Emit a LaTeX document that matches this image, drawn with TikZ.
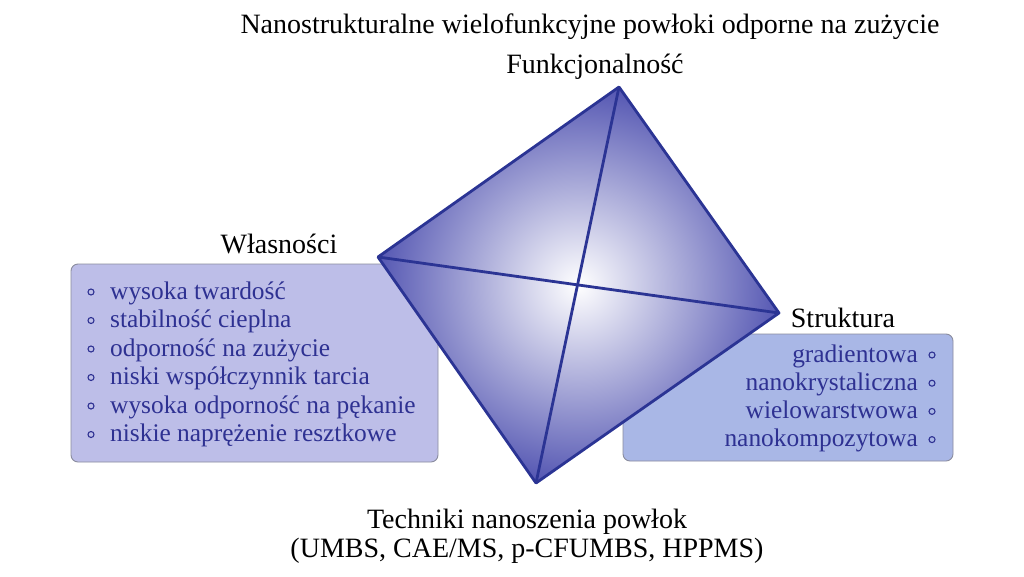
\documentclass[tikz,border=0pt]{standalone}
\usepackage{fontspec}
\setmainfont{Liberation Serif}
\definecolor{txtblue}{HTML}{2E3192}
\definecolor{lineblue}{HTML}{2B3494}
\definecolor{boxL}{HTML}{BDBEE8}
\definecolor{boxR}{HTML}{A9B7E6}
\definecolor{boxedge}{HTML}{8A8C9E}
\definecolor{faceouter}{HTML}{5658B3}
\begin{document}
\begin{tikzpicture}[x=1pt,y=-1pt,
  head/.style={font=\fontsize{28}{30}\selectfont, anchor=base, inner sep=0pt},
  item/.style={font=\fontsize{25.4}{28}\selectfont, text=txtblue, anchor=base west, inner sep=0pt},
  itemr/.style={font=\fontsize{25.4}{28}\selectfont, text=txtblue, anchor=base east, inner sep=0pt},
  bul/.style={circle, draw=txtblue, line width=1.1pt, minimum size=6pt, inner sep=0pt},
  panel/.style={draw=boxedge, line width=0.9pt, rounded corners=7pt},
  edge/.style={draw=lineblue, line width=2.8pt, line join=round}]
\useasboundingbox (0,0) rectangle (1024,576);
\fill[white] (0,0) rectangle (1024,576);

% panels
\draw[panel, fill=boxL] (71,264) rectangle (438,462);
\draw[panel, fill=boxR] (623,334) rectangle (953,461);

% diamond
\coordinate (T) at (619,87);
\coordinate (L) at (378,257);
\coordinate (R) at (779,313);
\coordinate (B) at (536,483);
\shade[inner color=white, outer color=faceouter] (T) -- (R) -- (B) -- (L) -- cycle;
\draw[edge] (T) -- (R) -- (B) -- (L) -- cycle;
\draw[edge] (T) -- (B);
\draw[edge] (L) -- (R);

% headings
\node[head] (title) at (590,33) {Nanostrukturalne wielofunkcyjne powłoki odporne na zużycie};
\node[head] (fun) at (595,73.5) {Funkcjonalność};
\node[head] (wla) at (279,253) {Własności};
\node[head] (str) at (843,327) {Struktura};
\node[head] (tech) at (527,528) {Techniki nanoszenia powłok};
\node[head] (tech2) at (527,557) {(UMBS, CAE/MS, p-CFUMBS, HPPMS)};

% left list
\foreach \t [count=\i] in {wysoka twardość, stabilność cieplna, odporność na zużycie, niski współczynnik tarcia, wysoka odporność na pękanie, niskie naprężenie resztkowe}{
  \node[item] (l\i) at (110,{299+28.5*(\i-1)}) {\t};
  \node[bul] (lb\i) at (91,{292+28.5*(\i-1)}) {};
}
% right list
\foreach \t [count=\i] in {gradientowa, nanokrystaliczna, wielowarstwowa, nanokompozytowa}{
  \node[itemr] (r\i) at (918,{362+28.2*(\i-1)}) {\t};
  \node[bul] (rb\i) at (932,{355+28.2*(\i-1)}) {};
}
\end{tikzpicture}
\end{document}
